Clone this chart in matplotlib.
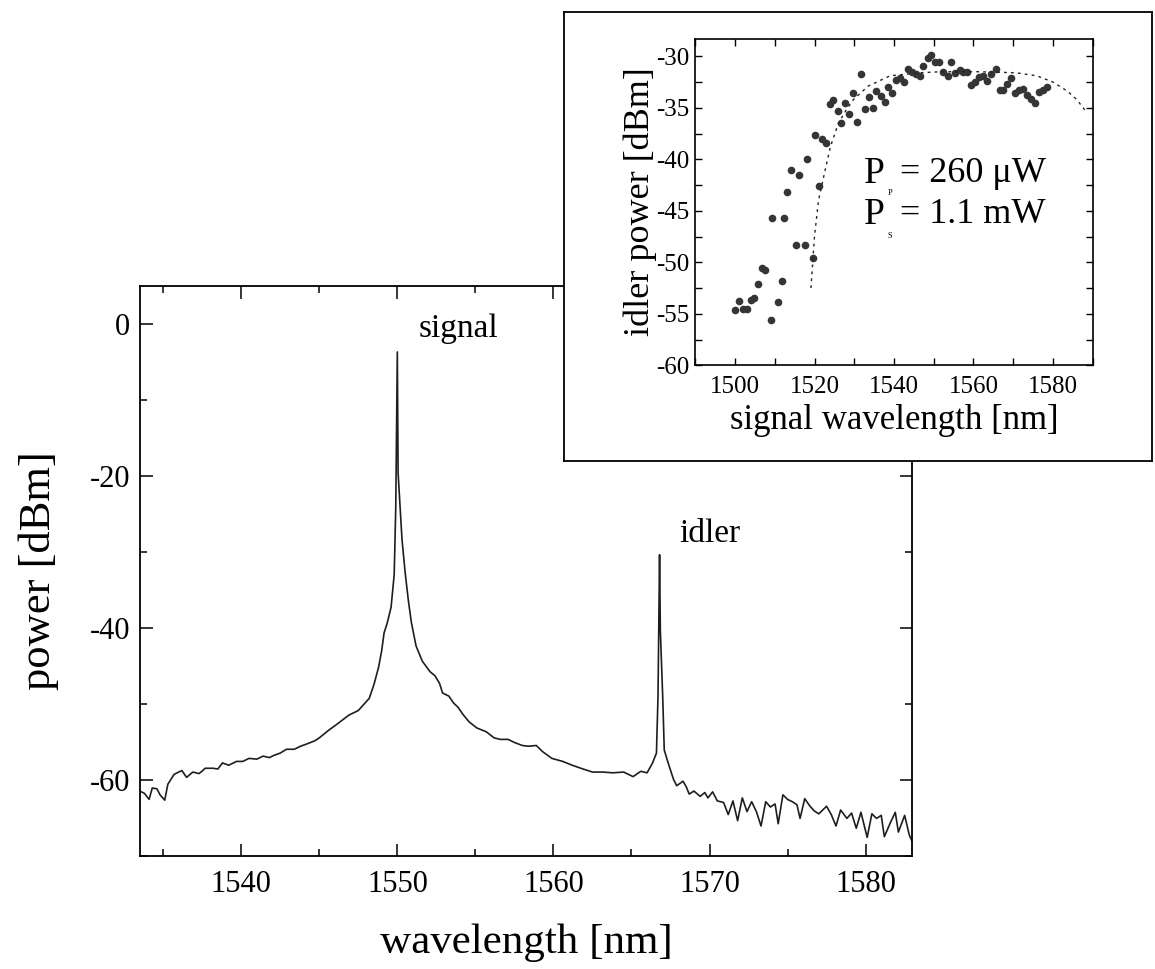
import matplotlib
matplotlib.use("Agg")
import matplotlib.pyplot as plt
from matplotlib.ticker import MultipleLocator

plt.rcParams['font.family'] = ['Liberation Serif', 'DejaVu Serif']
plt.rcParams['axes.unicode_minus'] = False

# ===============================
# MAIN SPECTRUM
# ===============================
wavelength = [
    1533.5, 1533.8, 1534.1, 1534.3, 1534.6, 1534.8, 1535.1, 1535.3, 1535.7, 1536.2,
    1536.5, 1536.9, 1537.3, 1537.7, 1538.2, 1538.5, 1538.8, 1539.2, 1539.7, 1540.1,
    1540.5, 1541.0, 1541.4, 1541.8, 1542.1, 1542.5, 1542.9, 1543.4, 1543.8, 1544.2,
    1544.7, 1545.0, 1545.6, 1546.2, 1546.9, 1547.5, 1548.2, 1548.5, 1548.8, 1549.0,
    1549.15, 1549.35, 1549.6, 1549.8, 1549.9, 1550.0, 1550.05, 1550.3, 1550.5, 1550.7,
    1550.9, 1551.2, 1551.6, 1552.1, 1552.4, 1552.7, 1552.9, 1553.3, 1553.6, 1553.9,
    1554.2, 1554.6, 1555.1, 1555.7, 1556.2, 1556.6, 1557.1, 1557.5, 1558.0, 1558.4,
    1558.9, 1559.3, 1559.9, 1560.6, 1561.2, 1561.9, 1562.5, 1563.2, 1563.8, 1564.5,
    1565.1, 1565.6, 1566.0, 1566.35, 1566.6, 1566.7, 1566.8, 1566.85, 1567.0, 1567.1,
    1567.35, 1567.7, 1567.9, 1568.3, 1568.5, 1568.7, 1569.0, 1569.4, 1569.7, 1569.9,
    1570.2, 1570.5, 1570.9, 1571.2, 1571.5, 1571.8, 1572.1, 1572.4, 1572.7, 1573.0,
    1573.3, 1573.6, 1573.9, 1574.2, 1574.4, 1574.7, 1575.0, 1575.3, 1575.6, 1575.8,
    1576.1, 1576.4, 1576.7, 1577.0, 1577.5, 1577.8, 1578.1, 1578.4, 1578.8, 1579.1,
    1579.4, 1579.7, 1580.1, 1580.4, 1580.7, 1581.0, 1581.2, 1581.6, 1581.9, 1582.1,
    1582.5, 1582.8, 1583.0,
]
power = [
    -61.5, -61.8, -62.6, -61.1, -61.2, -62.0, -62.7, -60.6, -59.3, -58.8,
    -59.7, -59.0, -59.2, -58.5, -58.5, -58.6, -57.8, -58.1, -57.6, -57.6,
    -57.2, -57.3, -56.9, -57.1, -56.8, -56.5, -56.0, -56.0, -55.6, -55.3,
    -54.9, -54.5, -53.5, -52.6, -51.5, -50.9, -49.3, -47.5, -45.2, -43.0,
    -40.7, -39.4, -37.3, -33.0, -24.2, -3.7, -19.6, -28.4, -32.7, -36.3,
    -39.3, -42.4, -44.4, -45.8, -46.3, -47.3, -48.6, -49.0, -49.9, -50.5,
    -51.4, -52.4, -53.2, -53.7, -54.5, -54.7, -54.7, -55.1, -55.5, -55.6,
    -55.5, -56.3, -57.2, -57.6, -58.1, -58.6, -59.0, -59.0, -59.1, -59.0,
    -59.6, -58.9, -59.1, -57.8, -56.5, -49.0, -30.4, -40.4, -49.0, -56.1,
    -57.8, -60.0, -60.8, -60.2, -60.9, -61.9, -61.5, -62.2, -61.7, -62.4,
    -61.6, -62.8, -63.0, -64.6, -62.8, -65.4, -62.4, -64.2, -62.9, -64.2,
    -66.1, -62.9, -63.6, -63.2, -65.8, -62.0, -62.6, -62.9, -63.3, -65.1,
    -62.5, -63.4, -64.1, -64.5, -63.5, -64.6, -66.1, -64.0, -65.1, -64.4,
    -66.4, -64.3, -67.6, -64.5, -65.1, -64.7, -67.5, -65.6, -64.3, -66.9,
    -64.7, -67.3, -68.2,
]

# ===============================
# INSET: idler power vs signal wavelength
# ===============================
sig_wl = [
    1500.0, 1500.9, 1502.0, 1503.0, 1504.0, 1504.8, 1505.9, 1506.8, 1507.6, 1509.0,
    1509.3, 1510.8, 1511.7, 1512.4, 1513.2, 1514.1, 1515.4, 1516.2, 1517.5, 1518.0,
    1519.5, 1520.0, 1521.2, 1521.9, 1522.9, 1523.9, 1524.7, 1525.8, 1526.7, 1527.7,
    1528.7, 1529.6, 1530.7, 1531.6, 1532.7, 1533.7, 1534.7, 1535.6, 1536.7, 1537.7,
    1538.6, 1539.6, 1540.6, 1541.5, 1542.5, 1543.5, 1544.5, 1545.6, 1546.5, 1547.4,
    1548.5, 1549.4, 1550.4, 1551.3, 1552.4, 1553.5, 1554.4, 1555.4, 1556.5, 1557.4,
    1558.4, 1559.4, 1560.4, 1561.4, 1562.3, 1563.3, 1564.3, 1565.6, 1566.6, 1567.5,
    1568.5, 1569.5, 1570.4, 1571.4, 1572.4, 1573.5, 1574.5, 1575.5, 1576.5, 1577.4,
    1578.5,
]
idler_pw = [
    -54.6, -53.8, -54.5, -54.5, -53.7, -53.5, -52.1, -50.6, -50.7, -55.6,
    -45.7, -53.9, -51.8, -45.7, -43.2, -41.0, -48.3, -41.5, -48.3, -40.0,
    -49.6, -37.6, -42.6, -38.0, -38.4, -34.6, -34.2, -35.3, -36.5, -34.5,
    -35.6, -33.6, -36.4, -31.7, -35.1, -34.0, -35.0, -33.4, -33.9, -34.4,
    -33.0, -33.6, -32.3, -32.1, -32.5, -31.2, -31.5, -31.7, -31.9, -30.9,
    -30.2, -29.9, -30.6, -30.6, -31.5, -31.9, -30.6, -31.6, -31.3, -31.5,
    -31.5, -32.8, -32.5, -32.0, -31.9, -32.4, -31.7, -31.2, -33.3, -33.3,
    -32.7, -32.1, -33.6, -33.3, -33.2, -33.8, -34.1, -34.5, -33.5, -33.3,
    -33.0,
]
fit_wl = [1519.1, 1520.0, 1521.0, 1522.3, 1524.0, 1526.0, 1528.0, 1529.8, 1533.5,
          1539.0, 1546.5, 1552.0, 1561.4, 1570.7, 1576.0, 1580.0, 1583.7, 1586.0, 1588.0]
fit_pw = [-52.5, -47.5, -44.0, -41.7, -38.8, -36.5, -35.2, -34.2, -32.9,
          -31.9, -31.6, -31.5, -31.5, -31.6, -31.9, -32.5, -33.4, -34.2, -35.2]

fig = plt.figure(figsize=(11.55, 9.69), dpi=100)

# main axes
ax = fig.add_axes([0.121, 0.117, 0.669, 0.588])
ax.plot(wavelength, power, color="#1e1e1e", lw=1.2)
ax.set_xlim(1533.5, 1583)
ax.set_ylim(-70, 5)
ax.xaxis.set_major_locator(MultipleLocator(10))
ax.xaxis.set_minor_locator(MultipleLocator(5))
ax.yaxis.set_major_locator(MultipleLocator(20))
ax.yaxis.set_minor_locator(MultipleLocator(10))
ax.tick_params(which="both", direction="in", top=True, right=True, width=1.1, labelsize=22)
ax.tick_params(which="major", length=9)
ax.tick_params(which="minor", length=5)
ax.tick_params(axis="x", pad=10)
ax.tick_params(axis="y", pad=7)
for s in ax.spines.values():
    s.set_linewidth(1.3)
ax.set_xlabel("wavelength [nm]", fontsize=31, labelpad=18)
ax.set_ylabel("power [dBm]", fontsize=32, labelpad=22)
ax.text(1553.9, -0.7, "signal", fontsize=24, ha="center", va="center")
ax.text(1570.0, -27.6, "idler", fontsize=24, ha="center", va="center")

# inset frame
frame = fig.add_axes([0.488, 0.524, 0.509, 0.464])
frame.set_facecolor("white")
frame.set_xticks([])
frame.set_yticks([])
for s in frame.spines.values():
    s.set_linewidth(1.3)

# inset axes
ins = fig.add_axes([0.602, 0.623, 0.344, 0.337])
ins.plot(sig_wl, idler_pw, "o", color="#353535", ms=5.5, mew=0)
ins.plot(fit_wl, fit_pw, color="#222222", lw=1.0, linestyle=(0, (2, 3)))
ins.set_xlim(1490, 1590)
ins.set_ylim(-60, -28.3)
ins.xaxis.set_major_locator(MultipleLocator(20))
ins.xaxis.set_minor_locator(MultipleLocator(10))
ins.yaxis.set_major_locator(MultipleLocator(5))
ins.yaxis.set_minor_locator(MultipleLocator(2.5))
ins.tick_params(which="both", direction="in", top=True, right=True, width=1.0,
                length=5, labelsize=18)
ins.tick_params(axis="x", pad=8)
ins.tick_params(axis="y", pad=4)
for s in ins.spines.values():
    s.set_linewidth(1.2)
ins.set_xlabel("signal wavelength [nm]", fontsize=25, labelpad=4)
ins.set_ylabel("idler power [dBm]", fontsize=26, labelpad=0)

# P_p / P_s annotation
ins.text(1532.3, -41.4, "P", fontsize=27, ha="left", va="center")
ins.text(1538.4, -43.3, "P", fontsize=6, ha="left", va="center")
ins.text(1541.5, -41.4, "= 260 μW", fontsize=26, ha="left", va="center")
ins.text(1532.3, -45.4, "P", fontsize=27, ha="left", va="center")
ins.text(1538.4, -47.4, "S", fontsize=6, ha="left", va="center")
ins.text(1541.5, -45.4, "= 1.1 mW", fontsize=26, ha="left", va="center")

fig.savefig("out.png", dpi=100)
